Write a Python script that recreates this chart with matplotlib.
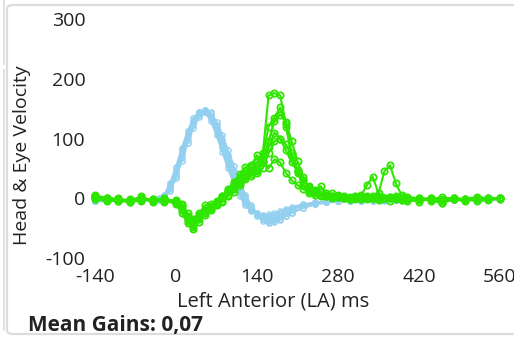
import matplotlib
matplotlib.use("Agg")
import matplotlib.pyplot as plt
from matplotlib.patches import FancyBboxPatch
from matplotlib.lines import Line2D

# time axes (ms)
t_head = [-140, -120, -100, -80, -60, -40,
          -30, -20, -10, 0, 10, 20, 30, 40, 50, 60,
          70, 80, 90, 100, 110, 120, 130, 140, 150, 160,
          170, 180, 190, 200,
          220, 240, 260, 280, 300, 320, 340, 360, 380, 400,
          420, 440, 460, 480, 500, 520, 540, 560]

t_eye = ([-140, -120, -100, -80, -60, -40, -20, 0]
         + list(range(10, 401, 10))
         + [420, 440, 460, 480, 500, 520, 540, 560])

# head velocity traces (light blue)
head_1 = [-4, -4, -5, -4, -4, -3,
          -2, 4, 22, 48, 80, 108, 130, 144, 147, 135,
          112, 86, 58, 32, 10, -8, -20, -29, -34, -35,
          -33, -29, -24, -19,
          -12, -8, -6, -5, -4, -4, -3, -3, -3, -3, -3, -2, -3, -3, -2, -2, -3, -2]
head_2 = [-5, -5, -5, -5, -4, -4,
          -3, 2, 15, 38, 68, 98, 122, 140, 148, 142,
          122, 98, 72, 46, 22, 2, -15, -28, -38, -42,
          -40, -36, -30, -25,
          -16, -10, -7, -5, -4, -4, -4, -3, -3, -3, -3, -3, -3, -2, -2, -3, -2, -2]
head_3 = [-4, -4, -4, -4, -3, -3,
          -2, 3, 18, 42, 74, 104, 128, 143, 146, 138,
          118, 92, 65, 38, 15, -4, -18, -26, -30, -31,
          -30, -27, -23, -18,
          -12, -8, -6, -5, -4, -3, -3, -3, -3, -2, -2, -2, -2, -2, -2, -2, -2, -2]
head_4 = [-5, -5, -4, -4, -4, -4,
          -3, 1, 12, 34, 62, 92, 118, 136, 145, 144,
          128, 106, 80, 54, 28, 6, -12, -25, -34, -39,
          -38, -35, -30, -24,
          -16, -10, -7, -5, -5, -4, -4, -4, -3, -3, -3, -3, -3, -3, -3, -3, -3, -3]
head_5 = [-3, -3, -4, -3, -3, -2,
          0, 6, 26, 52, 84, 112, 134, 145, 144, 130,
          106, 78, 50, 24, 4, -12, -22, -27, -28, -27,
          -25, -22, -18, -15,
          -10, -7, -5, -4, -3, -3, -3, -2, -2, -2, -2, -2, -2, -2, -2, -2, -2, -2]

# eye velocity traces (green)
eye_1 = [6, -2, -3, -4, 3, -5, -4, -8,
         -18, -38, -45, -30, -22, -14, -6, 2, 12, 22,
         32, 40, 48, 60, 75, 172, 176, 172, 125, 75,
         42, 22, 12, 8, 5, 4, 2, 3, 1, 0,
         2, 4, 3, 1, -2, 0, 2, 1, -3, -2,
         -6, 0, -4, 1, -2, 0, 0, 0]
eye_2 = [2, 0, -4, -2, 0, -6, -3, -10,
         -25, -42, -35, -28, -20, -16, -8, 0, 10, 18,
         28, 36, 40, 45, 70, 120, 135, 152, 120, 70,
         45, 22, 8, 6, 4, 3, 0, 2, 0, -2,
         0, 3, 2, 0, -3, 1, 2, 0, -2, -5,
         -3, -1, -8, 0, -3, -1, 1, 0]
eye_3 = [-2, -4, 0, -5, -3, -2, -6, -4,
         -12, -30, -52, -35, -25, -20, -10, -4, 6, 16,
         26, 35, 45, 55, 62, 95, 130, 140, 128, 95,
         62, 35, 15, 10, 20, 8, 2, 4, 0, -2,
         1, -2, 0, 4, 2, 0, -4, 0, 2, 1,
         0, -4, -8, -2, -5, 0, -2, -1]
eye_4 = [0, -3, -5, -6, -2, -3, 0, -6,
         -20, -35, -40, -25, -12, -10, -4, 4, 14, 24,
         35, 45, 52, 48, 60, 85, 110, 100, 80, 60,
         45, 30, 18, 12, 6, 3, 8, 2, 0, -1,
         2, 0, -1, 0, 4, 1, 0, -2, -3, 0,
         -2, -1, -3, 0, -2, -5, -3, 0]
eye_5 = [4, 1, -2, -3, 0, -4, -2, -5,
         -15, -32, -48, -40, -28, -18, -12, -6, 4, 10,
         22, 32, 38, 42, 50, 75, 95, 100, 90, 70,
         48, 30, 20, 14, 10, 6, 4, 5, 3, 2,
         4, 5, 22, 36, 8, 45, 55, 25, 5, 2,
         0, -2, 2, -1, -3, 0, -2, 1]
eye_6 = [3, 0, -1, -6, -4, -2, -5, -3,
         -10, -25, -36, -30, -20, -14, -6, 3, 15, 28,
         40, 52, 55, 72, 60, 50, 65, 60, 42, 30,
         22, 15, 12, 10, 6, 5, 3, 2, 1, 0,
         -1, 1, 2, 0, -2, 0, 1, 3, 0, -2,
         -1, 0, -3, -2, -1, 2, 0, 0]

head_traces = [head_1, head_2, head_3, head_4, head_5]
eye_traces = [eye_1, eye_2, eye_3, eye_4, eye_5, eye_6]

x_ticks = [-140, 0, 140, 280, 420, 560]
y_ticks = [-100, 0, 100, 200, 300]

plt.rcParams['font.family'] = ['Open Sans', 'DejaVu Sans']
plt.rcParams['axes.unicode_minus'] = False

W, H = 514, 338
fig = plt.figure(figsize=(W / 100, H / 100), dpi=100)

# panel frame (screenshot of a UI card)
fig.patches.append(FancyBboxPatch((7 / W, 4 / H), 540 / W, 329 / H,
                                  boxstyle="round,pad=0,rounding_size=0.012",
                                  transform=fig.transFigure, facecolor='white',
                                  edgecolor='#dcdcdc', linewidth=1.6, zorder=-10))
fig.lines.append(Line2D([4 / W, 4 / W], [1, 1 - 64 / H], transform=fig.transFigure,
                        color='#dcdcdc', linewidth=1.2, zorder=-10))
fig.lines.append(Line2D([4 / W, 4 / W], [1 - 70 / H, 8 / H], transform=fig.transFigure,
                        color='#dcdcdc', linewidth=1.2, zorder=-10))

ax = fig.add_axes([95 / W, 1 - 258 / H, 405 / W, 239 / H])
ax.set_zorder(5)
ax.patch.set_alpha(0)

for y in head_traces:
    ax.plot(t_head, y, color='#93d0ef', linewidth=1.5, marker='o', markersize=3.8,
            markerfacecolor='none', markeredgewidth=1.0, clip_on=False)
for y in eye_traces:
    ax.plot(t_eye, y, color='#2ee600', linewidth=1.5, marker='o', markersize=4.5,
            markerfacecolor='none', markeredgewidth=1.3, clip_on=False)

ax.set_xlim(-140, 560)
ax.set_ylim(-100, 300)
ax.set_xticks(x_ticks)
ax.set_yticks(y_ticks)
for s in ax.spines.values():
    s.set_visible(False)
ax.tick_params(length=0, labelsize=14, colors='#222222')
ax.tick_params(axis='x', pad=7)
ax.tick_params(axis='y', pad=7)

fig.text(273 / W, 1 - 306 / H, "Left Anterior (LA) ms", fontsize=14.5, color='#222222',
         ha='center', va='baseline')
fig.text(22 / W, 1 - 155 / H, "Head & Eye Velocity", fontsize=14, color='#222222',
         ha='center', va='center', rotation=90)
fig.text(28 / W, 1 - 326 / H, "Mean Gains: 0,07", fontsize=15, fontweight='bold',
         color='#222222', va='center', ha='left')

fig.savefig("out.png", dpi=100)
